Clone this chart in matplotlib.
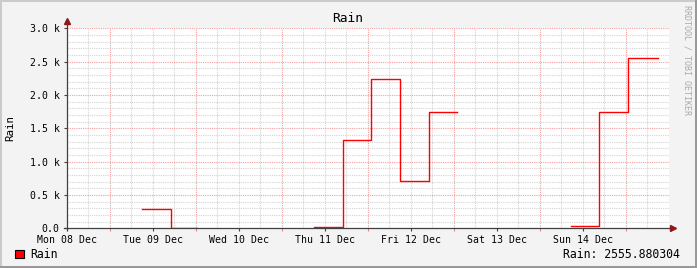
import numpy as np
import matplotlib
matplotlib.use("Agg")
import matplotlib.pyplot as plt
from matplotlib.patches import Rectangle

# ---- data (hours since Mon 08 Dec 00:00) ----
step_hours = [21, 29, 36.3, 69, 77, 85, 93, 101, 109, 140.7, 148.6, 156.7, 164.9]
rain_values = [285, 0, np.nan, 15, 1320, 2235, 705, 1740, np.nan, 30, 1740, 2555.880304, np.nan]
day_labels = ["Mon 08 Dec", "Tue 09 Dec", "Wed 10 Dec", "Thu 11 Dec",
              "Fri 12 Dec", "Sat 13 Dec", "Sun 14 Dec"]
y_tick_values = [0, 500, 1000, 1500, 2000, 2500, 3000]
y_tick_labels = ["0.0", "0.5 k", "1.0 k", "1.5 k", "2.0 k", "2.5 k", "3.0 k"]
legend_label = "Rain"
last_value_text = "Rain: 2555.880304"

W, H = 697, 268
fig = plt.figure(figsize=(W / 100, H / 100), dpi=100)
fig.patch.set_facecolor("#F3F3F3")
mono = "DejaVu Sans Mono"

left, right, bottom_px, top_px = 66.7, 669.0, 228.3, 28.3
ax = fig.add_axes([left / W, 1 - bottom_px / H, (right - left) / W, (bottom_px - top_px) / H])
ax.set_facecolor("white")
ax.set_xlim(0, 168)
ax.set_ylim(0, 3000)
for s in ax.spines.values():
    s.set_visible(False)

dot = (0, (1, 1))
# minor grid
for h in np.arange(6, 168, 6):
    if h % 24 != 12:
        ax.axvline(h, color="#D4D4D4", lw=0.8, ls=dot, zorder=1)
for v in range(100, 3001, 100):
    if v % 500 != 0:
        ax.axhline(v, color="#D4D4D4", lw=0.8, ls=dot, zorder=1)
# major grid
for h in np.arange(12, 168, 24):
    ax.axvline(h, color="#F2A0A0", lw=0.8, ls=dot, zorder=2)
for v in range(500, 3001, 500):
    ax.axhline(v, color="#F2A0A0", lw=0.8, ls=dot, zorder=2)

# data
ax.plot(step_hours, rain_values, drawstyle="steps-post", color="#FF0000", lw=1.0, zorder=5)

# axes lines with arrows
ax.plot([0, 0], [-0.01, 1.035], transform=ax.transAxes, color="#404040", lw=0.9, clip_on=False, zorder=6)
ax.plot([-0.004, 1.0066], [0, 0], transform=ax.transAxes, color="#404040", lw=0.9, clip_on=False, zorder=6)
ax.plot([0], [1.035], marker="^", ms=4.5, color="#8B1A1A", transform=ax.transAxes, clip_on=False, zorder=7)
ax.plot([1.0066], [0], marker=">", ms=4.5, color="#8B1A1A", transform=ax.transAxes, clip_on=False, zorder=7)

ax.set_xticks(np.arange(0, 168, 24))
ax.set_xticklabels(day_labels, family=mono, fontsize=7.1)
ax.set_xticks(np.arange(12, 168, 24), minor=True)
ax.set_yticks(y_tick_values)
ax.set_yticklabels(y_tick_labels, family=mono, fontsize=7.1)
ax.tick_params(axis="both", which="major", length=2.5, width=0.8, color="#404040", pad=2.5)
ax.tick_params(axis="x", which="minor", length=2, width=0.8, color="#F08080")

# title and labels
fig.text(348 / W, 1 - 19 / H, "Rain", family=mono, fontsize=9.3, ha="center", va="center")
fig.text(10 / W, 1 - 128 / H, "Rain", family=mono, fontsize=7.8, rotation=90, ha="center", va="center")
fig.text(687 / W, 1 - 5 / H, "RRDTOOL / TOBI OETIKER", family=mono, fontsize=6, rotation=-90,
         ha="center", va="top", color="#AAAAAA")

# legend
fig.patches.append(Rectangle((15 / W, 1 - 258 / H), 9 / W, 8 / H, transform=fig.transFigure,
                             facecolor="#FF0000", edgecolor="black", lw=0.8))
fig.text(30 / W, 1 - 254 / H, legend_label, family=mono, fontsize=8.3, ha="left", va="center")
fig.text(680 / W, 1 - 254 / H, last_value_text, family=mono, fontsize=8.3, ha="right", va="center")

# frame shading
fig.patches.append(Rectangle((0, 1 - 2 / H), 1, 2 / H, transform=fig.transFigure, color="#CBCBCB", lw=0))
fig.patches.append(Rectangle((0, 0), 2 / W, 1, transform=fig.transFigure, color="#CBCBCB", lw=0))
fig.patches.append(Rectangle((0, 0), 1, 2 / H, transform=fig.transFigure, color="#999999", lw=0))
fig.patches.append(Rectangle((1 - 2 / W, 0), 2 / W, 1, transform=fig.transFigure, color="#999999", lw=0))

fig.savefig("out.png", dpi=100, facecolor=fig.get_facecolor())
